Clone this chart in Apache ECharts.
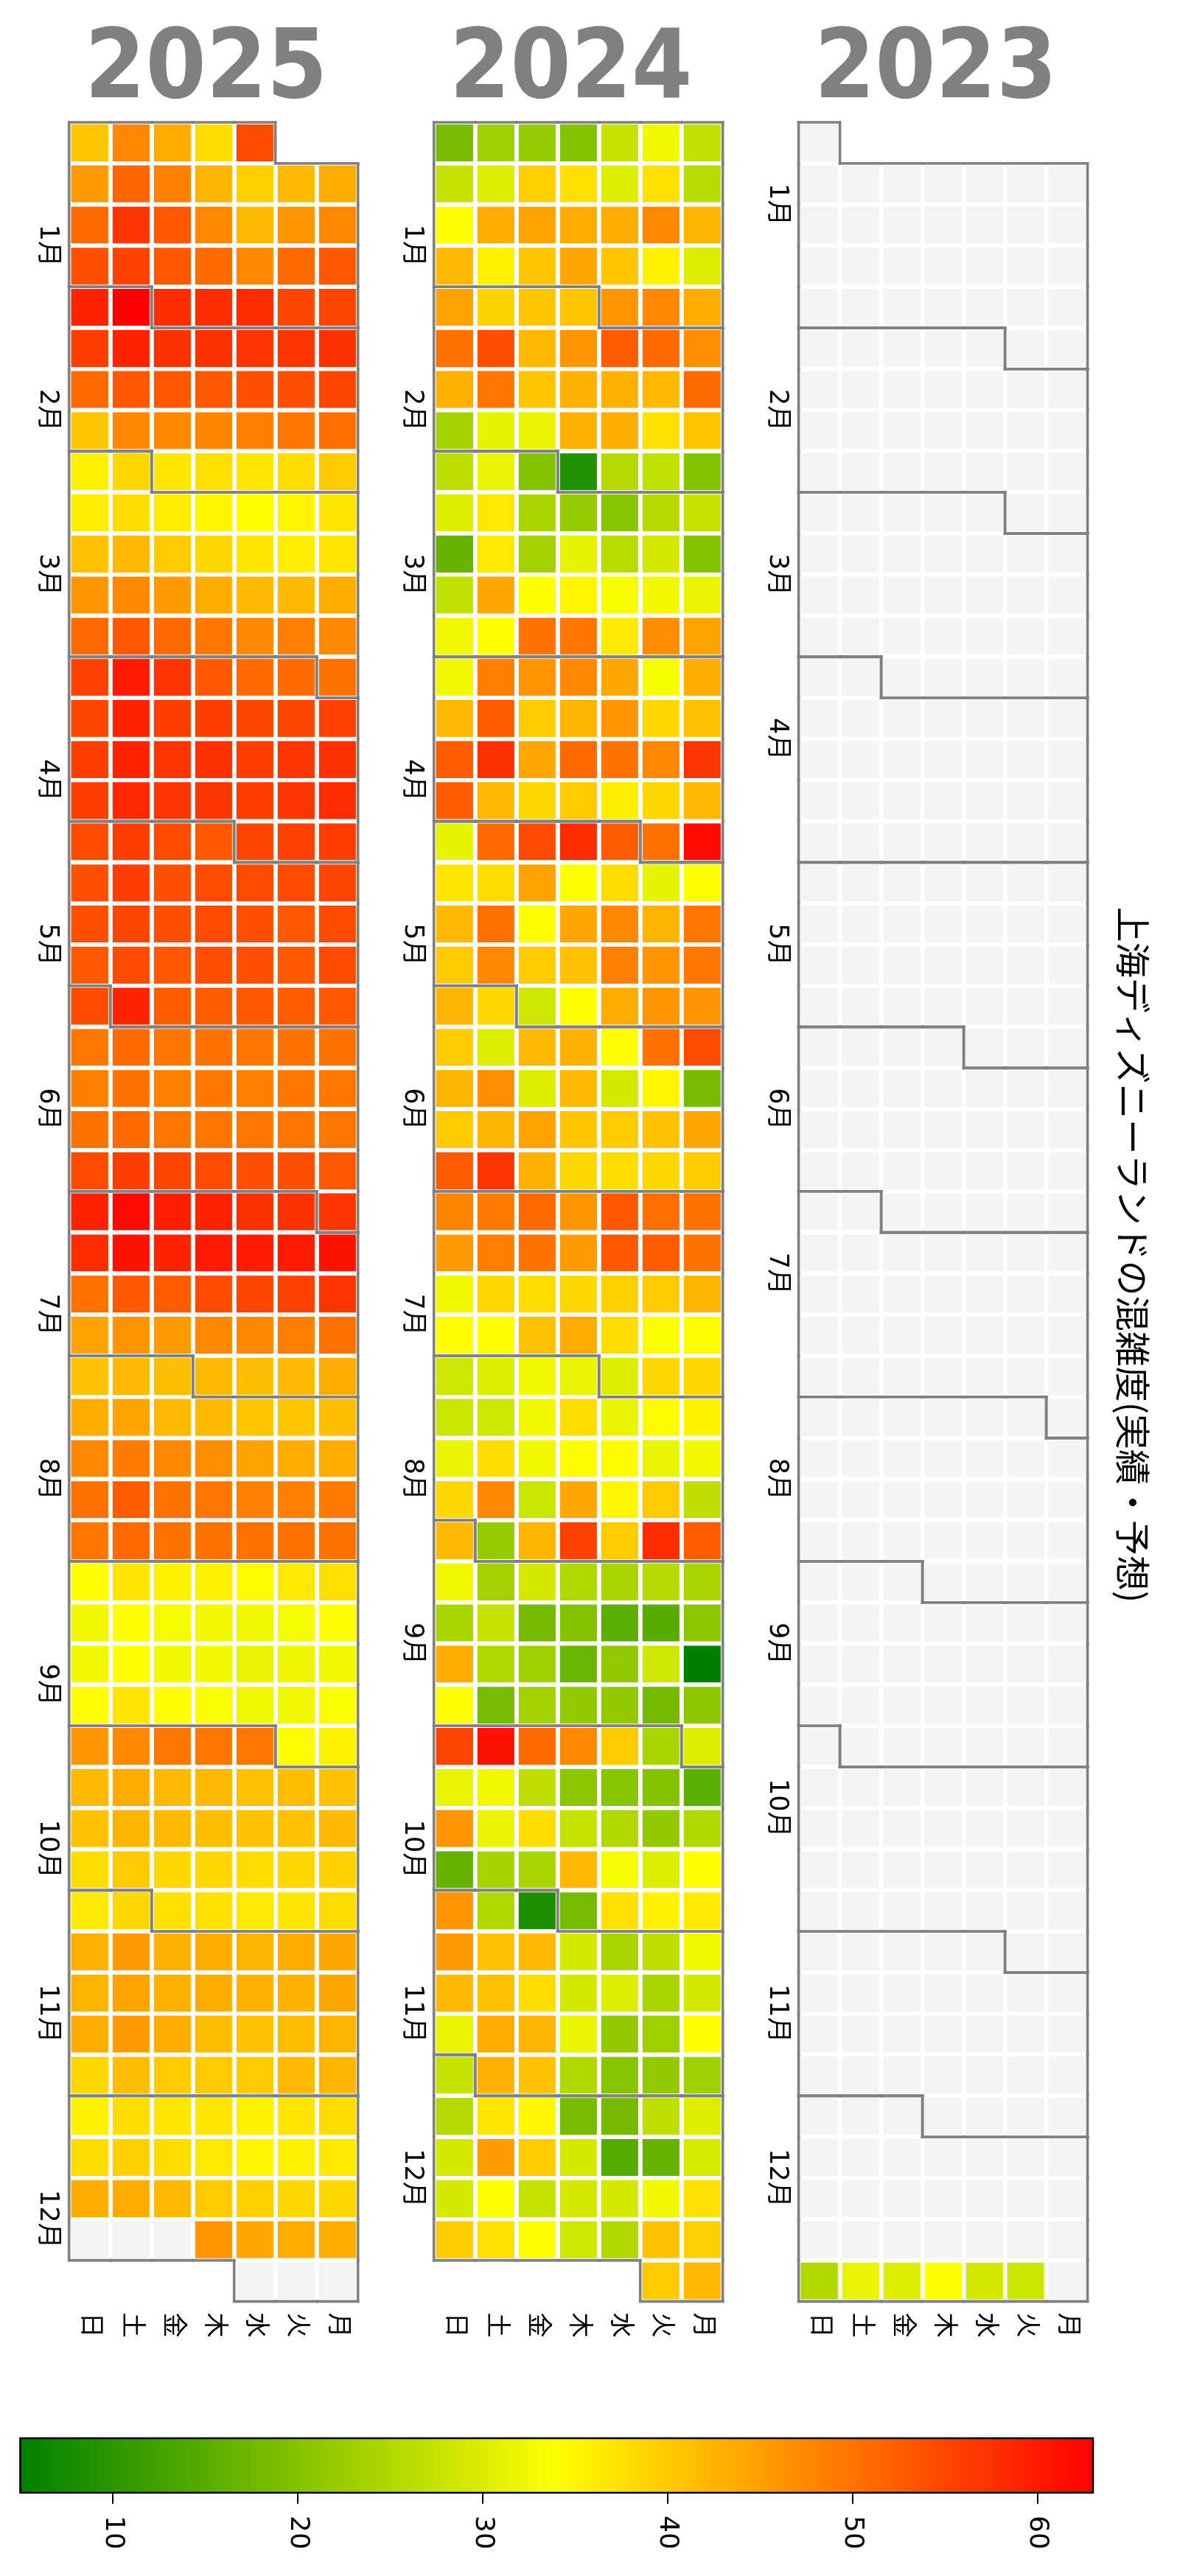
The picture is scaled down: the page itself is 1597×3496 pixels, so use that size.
<!DOCTYPE html>
<html><head><meta charset="utf-8">
<script src="https://cdn.jsdelivr.net/npm/echarts@6/dist/echarts.min.js"></script>
<style>html,body{margin:0;padding:0;background:#fff}#c{width:1597px;height:3496px}</style>
</head><body><div id="c"></div>
<script>
// ---------------- data ----------------
const TITLE = '上海ディズニーランドの混雑度(実績・予想)';
const YEARS = [2025, 2024, 2023];
const DAY_LABELS = ['日', '土', '金', '木', '水', '火', '月']; // left -> right
const MONTH_LABELS = ['1月','2月','3月','4月','5月','6月','7月','8月','9月','10月','11月','12月'];
const COLORBAR_TICKS = [10, 20, 30, 40, 50, 60];
const VALUE_MIN = 5;
const VALUE_MAX = 63;
const COLOR_STOPS = ['#008000', '#ffff00', '#ff0000'];

// daily values, consecutive days from the start date (Mon..Sun per line)
const START_2025 = '2025-01-01';
const VALUES_2025 = [
                54.5, 38, 43.5, 47.5, 40.5,
  43.5, 42, 39.5, 42.5, 48.5, 51.5, 45.5,
  47.5, 46, 42, 47.5, 53, 57, 51,
  53, 51, 47.5, 51, 53, 55.5, 54,
  55, 55, 58, 58, 58, 63, 59,
  57.5, 57, 57, 57.5, 57.5, 59, 56,
  55, 54, 54, 53, 53, 53, 51,
  50.5, 49.5, 48.5, 48, 47.5, 47.5, 40.5,
  40, 38, 37, 37.5, 37, 38.5, 35.5,
  37, 35, 34, 35, 36, 38, 36,
  37, 36, 37, 38.5, 40, 42, 41,
  43.5, 42, 42, 43.5, 45.5, 47.5, 46,
  47.5, 48.5, 47.5, 49.5, 51, 53, 51,
  50, 51, 51, 53, 57, 60, 55.5,
  55.5, 55, 55, 56, 56, 59, 55,
  57.5, 57, 56, 57.5, 57, 59, 56,
  58, 57, 56, 57, 57, 58.5, 56,
  56, 55.5, 55, 53, 54.5, 56, 54.5,
  55, 54.5, 54.5, 54.5, 54, 56, 54,
  54.5, 53, 54, 54.5, 54, 55, 54,
  54.5, 53, 54, 54, 53, 54.5, 53,
  53, 52.5, 53, 52.5, 52.5, 59, 54.5,
  50, 50, 49.5, 50, 49.5, 51, 49.5,
  49.5, 49.5, 48.5, 49.5, 48.5, 50, 48.5,
  49.5, 49.5, 49.5, 49.5, 49.5, 51, 50,
  53, 54, 54, 54.5, 55, 56, 54.5,
  57, 57.5, 57.5, 59, 59.5, 62, 59,
  61, 60, 60, 60, 59, 61, 58,
  57, 55.5, 55, 54.5, 52.5, 53, 50,
  50, 48.5, 47.5, 47.5, 45.5, 46, 44.5,
  43.5, 42, 41.5, 42, 41.5, 42, 41,
  41.5, 40.5, 40.5, 42, 42, 44.5, 43.5,
  43.5, 43.5, 44.5, 47, 47.5, 49, 47.5,
  49, 48.5, 48.5, 49.5, 50, 52.5, 50,
  50, 50, 50, 50, 50, 51, 49.5,
  37.5, 36.5, 34.5, 35.5, 35.5, 37, 34,
  34, 33, 32.5, 32.5, 33, 34, 32.5,
  32.5, 32, 31.5, 32.5, 32.5, 34, 32.5,
  33.5, 32.5, 32.5, 33.5, 34, 37, 34,
  35.5, 34.5, 49.5, 49.5, 49.5, 47.5, 46,
  41, 41.5, 41, 42, 42, 43.5, 42,
  42, 41, 41, 41.5, 42, 42.5, 41,
  39.5, 38.5, 38, 38.5, 38.5, 40, 38,
  38, 37, 36.5, 37.5, 37.5, 38.5, 36.5,
  44, 43.5, 42.5, 43.5, 43, 45.5, 43,
  44, 43, 43, 43.5, 43, 44.5, 42.5,
  42.5, 41.5, 41, 41.5, 43.5, 45.5, 43.5,
  42.5, 42, 40, 40, 40, 41.5, 38.5,
  38, 37, 35.5, 37, 37, 38, 35.5,
  36.5, 35.5, 35, 36.5, 38, 39.5, 38,
  38.5, 38.5, 39.5, 40, 42, 43.5, 43.5,
  43.5, 43.5, 44, 46
];

const START_2024 = '2024-01-01';
const VALUES_2024 = [
  27, 32.5, 27.5, 20, 22, 23, 18.5,
  26, 37.5, 30, 37.5, 39.5, 30, 27.5,
  42.5, 47.5, 43.5, 43.5, 44.5, 43.5, 34,
  30, 35.5, 40.5, 44, 40.5, 35.5, 42,
  43.5, 47.5, 46, 40.5, 40.5, 39, 44.5,
  47, 51, 52.5, 46, 42, 54, 50,
  51, 42, 43, 43, 40.5, 49.5, 43,
  40.5, 37.5, 43.5, 43, 31.5, 31, 23.5,
  20, 27, 25.5, 9, 20, 31.5, 26.5,
  27.5, 25.5, 20.5, 22, 24.5, 36.5, 30,
  20, 29, 26, 31, 23.5, 36.5, 16.5,
  31.5, 32.5, 33, 35, 34, 44, 27,
  44.5, 47, 36.5, 49.5, 50, 34, 32.5,
  43.5, 33, 44, 47.5, 46, 48.5, 32.5,
  41, 38.5, 46, 42.5, 40, 52.5, 42,
  57, 47.5, 50, 51, 44, 57.5, 52.5,
  42, 38.5, 36, 40, 38.5, 42, 52.5,
  62, 50, 52.5, 58, 54.5, 51, 31,
  34, 31, 38, 34, 44.5, 38, 37,
  49.5, 42.5, 47.5, 44, 34, 50, 42,
  49.5, 46, 48.5, 41, 40, 47.5, 40,
  46, 46, 43.5, 34, 28.5, 38.5, 42.5,
  54.5, 50, 34, 43, 42, 30, 40,
  18.5, 35, 29, 42, 30, 47, 42.5,
  44, 41, 40, 40.5, 44.5, 42.5, 40,
  40, 38.5, 38, 38.5, 43, 57, 52.5,
  50, 50.5, 53, 46, 51, 49, 48,
  50, 52.5, 53, 45.5, 50, 48.5, 45.5,
  42.5, 40, 39.5, 38.5, 38, 38.5, 32.5,
  34, 33.5, 38, 43.5, 41, 34, 34,
  38.5, 38.5, 30, 31.5, 32.5, 30, 28.5,
  35.5, 34.5, 31.5, 38, 32.5, 28.5, 28,
  32.5, 31.5, 34.5, 34.5, 32.5, 38, 31.5,
  26.5, 40, 35, 44, 28, 47.5, 38.5,
  52.5, 58, 40, 55.5, 42.5, 22, 42,
  24.5, 25.5, 24.5, 25, 29, 23.5, 32.5,
  21, 15, 15.5, 20, 18, 27.5, 24.5,
  5, 28.5, 21.5, 17, 23, 25, 43.5,
  21, 18, 21.5, 21.5, 23.5, 18.5, 34,
  30, 24.5, 40, 47.5, 51, 61, 55,
  15.5, 20, 20.5, 21, 26.5, 32.5, 31.5,
  25, 21.5, 25, 27.5, 38, 31.5, 46,
  34, 30, 33, 42, 24.5, 24, 16.5,
  36.5, 35.5, 37.5, 18.5, 8.5, 25, 46,
  32.5, 26.5, 24.5, 29, 42, 41, 45.5,
  29, 24.5, 30, 29, 38, 41, 42,
  34, 23, 21.5, 31.5, 42.5, 43.5, 31.5,
  23, 21.5, 20.5, 25, 41, 43, 27.5,
  30, 26.5, 18, 18.5, 35, 37, 25.5,
  29.5, 16.5, 15, 29, 40, 45.5, 29,
  37.5, 32.5, 29, 29, 27.5, 34, 29,
  39.5, 41, 25, 28.5, 34, 37.5, 40,
  42, 40
];

const START_2023 = '2023-12-26';
const VALUES_2023 = [28, 29, 34, 30, 31.5, 25];

const YEAR_DATA = { 2025: [START_2025, VALUES_2025], 2024: [START_2024, VALUES_2024], 2023: [START_2023, VALUES_2023] };

// ---------------- layout ----------------
const GRID_LEFTS = [93.7, 588.7, 1083.6];
const GRID_TOP = 166, GRID_W = 392, GRID_H = 2957.4;
const LABEL_FONT = "'DejaVu Sans', 'Noto Sans CJK JP', sans-serif";
const DAY = 86400000;

function dow(t) { return (new Date(t).getUTCDay() + 6) % 7; } // Mon=0
function cellOf(year, t) {
  const jan1 = Date.UTC(year, 0, 1);
  const doy = Math.round((t - jan1) / DAY);
  return { col: 6 - dow(t), row: Math.floor((doy + dow(jan1)) / 7), month: new Date(t).getUTCMonth() };
}
function isoWeek(t) {
  const d = dow(t);
  const thu = t + (3 - d) * DAY;
  const y = new Date(thu).getUTCFullYear();
  const jan4 = Date.UTC(y, 0, 4);
  const wk1 = jan4 - dow(jan4) * DAY;
  return 1 + Math.round((t - d * DAY - wk1) / (7 * DAY));
}
function parseDate(s) { const p = s.split('-').map(Number); return Date.UTC(p[0], p[1] - 1, p[2]); }

const grids = [], xAxes = [], yAxes = [], series = [], valuedIdx = [], graphics = [];

YEARS.forEach((year, i) => {
  const [start, vals] = YEAR_DATA[year];
  const t0 = parseDate(start);
  const valueByDay = {};
  vals.forEach((v, k) => { valueByDay[t0 + k * DAY] = v; });
  const jan1 = Date.UTC(year, 0, 1), jan1Next = Date.UTC(year + 1, 0, 1);
  const monthOf = t => (t >= jan1 && t < jan1Next) ? new Date(t).getUTCMonth() : -1;
  const valued = [], empty = [], borders = [];
  for (let t = jan1; t < jan1Next; t += DAY) {
    const c = cellOf(year, t);
    const v = valueByDay[t];
    if (v === undefined || v === null) empty.push([c.col, c.row]);
    else valued.push([c.col, c.row, v]);
    let mask = 0;
    if (monthOf(t - 7 * DAY) !== c.month) mask |= 1;            // top
    if (monthOf(t + 7 * DAY) !== c.month) mask |= 2;            // bottom
    if (c.col === 0 || monthOf(t + DAY) !== c.month) mask |= 4; // left (next day)
    if (c.col === 6 || monthOf(t - DAY) !== c.month) mask |= 8; // right (previous day)
    if (mask) borders.push([c.col, c.row, mask]);
  }
  const monthPos = {};
  for (let m = 0; m < 12; m++) monthPos[isoWeek(Date.UTC(year, m, 15))] = MONTH_LABELS[m];

  grids.push({ left: GRID_LEFTS[i], top: GRID_TOP, width: GRID_W, height: GRID_H, outerBoundsMode: 'none' });
  xAxes.push({
    type: 'value', gridIndex: i, min: 0, max: 7, position: 'bottom',
    axisLine: { show: false }, axisTick: { show: false }, splitLine: { show: false },
    axisLabel: {
      customValues: [0.5, 1.5, 2.5, 3.5, 4.5, 5.5, 6.5],
      formatter: v => DAY_LABELS[Math.floor(v)],
      rotate: -90, margin: 15, fontSize: 34, color: '#000', fontFamily: LABEL_FONT
    }
  });
  yAxes.push({
    type: 'value', gridIndex: i, min: 0, max: 53, inverse: true,
    axisLine: { show: false }, axisTick: { show: false }, splitLine: { show: false },
    axisLabel: {
      customValues: Object.keys(monthPos).map(Number),
      formatter: v => monthPos[Math.round(v)] || '',
      rotate: -90, margin: 12, fontSize: 35, color: '#000', fontFamily: LABEL_FONT
    }
  });
  const rectOf = (api) => {
    const c = api.value(0), r = api.value(1);
    const a = api.coord([c, r]), b = api.coord([c + 1, r + 1]);
    return { x: Math.min(a[0], b[0]), y: Math.min(a[1], b[1]), width: Math.abs(b[0] - a[0]), height: Math.abs(b[1] - a[1]) };
  };
  valuedIdx.push(series.length);
  series.push({
    type: 'custom', xAxisIndex: i, yAxisIndex: i, data: valued, encode: { x: 0, y: 1 }, silent: true, z: 2,
    renderItem: (p, api) => ({ type: 'rect', shape: rectOf(api), style: { fill: api.visual('color'), stroke: '#ffffff', lineWidth: 5.6 } })
  });
  series.push({
    type: 'custom', xAxisIndex: i, yAxisIndex: i, data: empty, encode: { x: 0, y: 1 }, silent: true, z: 2,
    renderItem: (p, api) => ({ type: 'rect', shape: rectOf(api), style: { fill: '#f4f4f4', stroke: '#ffffff', lineWidth: 5.6 } })
  });
  series.push({
    type: 'custom', xAxisIndex: i, yAxisIndex: i, data: borders, encode: { x: 0, y: 1 }, silent: true, z: 3,
    renderItem: (p, api) => {
      const s = rectOf(api), m = api.value(2);
      const x0 = s.x, y0 = s.y, x1 = s.x + s.width, y1 = s.y + s.height;
      const st = { stroke: '#808080', lineWidth: 3.6, lineCap: 'square' };
      const ch = [];
      if (m & 1) ch.push({ type: 'line', shape: { x1: x0, y1: y0, x2: x1, y2: y0 }, style: st });
      if (m & 2) ch.push({ type: 'line', shape: { x1: x0, y1: y1, x2: x1, y2: y1 }, style: st });
      if (m & 4) ch.push({ type: 'line', shape: { x1: x0, y1: y0, x2: x0, y2: y1 }, style: st });
      if (m & 8) ch.push({ type: 'line', shape: { x1: x1, y1: y0, x2: x1, y2: y1 }, style: st });
      return { type: 'group', children: ch };
    }
  });
  graphics.push({
    type: 'text', x: GRID_LEFTS[i] + GRID_W / 2 - 10, y: 98, scaleX: 0.91, silent: true,
    style: { text: String(year), fontSize: 130, fontWeight: 'bold', fontFamily: "'DejaVu Sans', sans-serif", fill: '#808080', align: 'center', verticalAlign: 'middle', textAlign: 'center', textVerticalAlign: 'middle' }
  });
});

// colorbar
const CB = YEARS.length;
grids.push({ left: 27.5, top: 3309, width: 1455.5, height: 74, outerBoundsMode: 'none' });
xAxes.push({
  type: 'value', gridIndex: CB, min: VALUE_MIN, max: VALUE_MAX,
  axisLine: { show: false }, splitLine: { show: false },
  axisTick: { show: true, customValues: COLORBAR_TICKS, length: 15, lineStyle: { color: '#000', width: 2 } },
  axisLabel: { customValues: COLORBAR_TICKS, rotate: -90, margin: 31, fontSize: 36, color: '#000', fontFamily: LABEL_FONT }
});
yAxes.push({ type: 'value', gridIndex: CB, min: 0, max: 1, show: false });
series.push({
  type: 'custom', xAxisIndex: CB, yAxisIndex: CB, data: [[VALUE_MIN, VALUE_MAX]], encode: { x: [0, 1] }, silent: true,
  renderItem: (p, api) => {
    const a = api.coord([api.value(0), 1]), b = api.coord([api.value(1), 0]);
    return {
      type: 'rect', shape: { x: a[0], y: a[1], width: b[0] - a[0], height: b[1] - a[1] },
      style: {
        fill: new echarts.graphic.LinearGradient(0, 0, 1, 0, COLOR_STOPS.map((c, k) => ({ offset: k / (COLOR_STOPS.length - 1), color: c }))),
        stroke: '#000', lineWidth: 2.6
      }
    };
  }
});

graphics.push({
  type: 'text', x: 1537, y: 1703, rotation: -Math.PI / 2, silent: true,
  style: { text: TITLE, fontSize: 48, fontFamily: "'Noto Sans CJK JP', sans-serif", fill: '#000', align: 'center', verticalAlign: 'middle', textAlign: 'center', textVerticalAlign: 'middle' }
});

const chart = echarts.init(document.getElementById('c'));
chart.setOption({
  animation: false,
  backgroundColor: '#ffffff',
  grid: grids, xAxis: xAxes, yAxis: yAxes,
  visualMap: { type: 'continuous', show: false, min: VALUE_MIN, max: VALUE_MAX, dimension: 2, seriesIndex: valuedIdx, inRange: { color: COLOR_STOPS } },
  graphic: graphics,
  series: series
});
</script></body></html>
